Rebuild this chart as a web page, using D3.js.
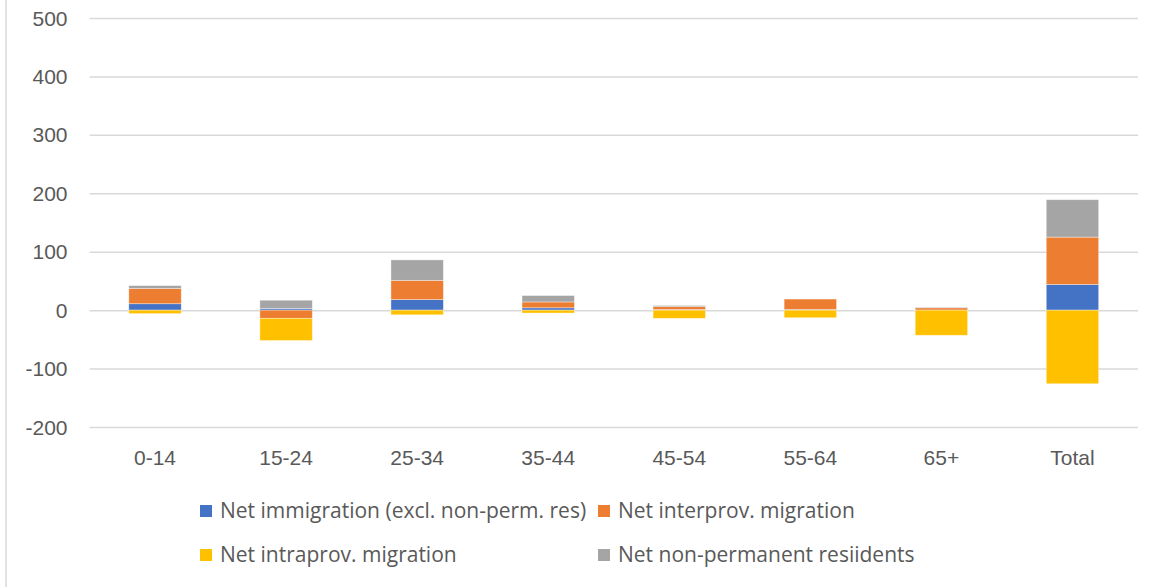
<!DOCTYPE html>
<html>
<head>
<meta charset="utf-8">
<script src="https://cdn.jsdelivr.net/npm/d3@7"></script>
<style>
  html, body { margin: 0; padding: 0; background: #fff; }
  svg { display: block; font-family: "Open Sans", sans-serif; }
</style>
</head>
<body>
<svg id="chart" width="1157" height="587"></svg>
<script>
// Age groups along the x axis
const categories = ["0-14", "15-24", "25-34", "35-44", "45-54", "55-64", "65+", "Total"];

// Components of net migration, by age group
const seriesNames = [
  "Net immigration (excl. non-perm. res)",
  "Net interprov. migration",
  "Net intraprov. migration",
  "Net non-permanent resiidents"
];
const immigration  = [11, 3, 18, 4, 1, 1, 0, 44];
const interprov    = [26, -14, 33, 10, 5, 18, 4, 81];
const intraprov    = [-6, -38, -8, -5, -14, -13, -43, -126];
const nonPermanent = [5, 14, 35, 11, 2, 0, 1, 64];

const yTicks = [-200, -100, 0, 100, 200, 300, 400, 500];

const colors = ["#4472C4", "#ED7D31", "#FFC000", "#A5A5A5"];
const seriesValues = [immigration, interprov, intraprov, nonPermanent];

const rows = categories.map((c, i) => {
  const r = { category: c };
  seriesNames.forEach((s, k) => { r[s] = seriesValues[k][i]; });
  return r;
});

const FONT = "21px";
const svg = d3.select("#chart");

// Outer frame edge on the left
svg.append("line")
  .attr("x1", 6).attr("x2", 6).attr("y1", 0).attr("y2", 587)
  .attr("stroke", "#d9d9d9").attr("stroke-width", 1.5);

const x = d3.scaleBand()
  .domain(categories)
  .range([89.5, 1138])
  .paddingInner(0.6)
  .paddingOuter(0.3);

const y = d3.scaleLinear()
  .domain([-200, 500])
  .range([427, 18]);

// Horizontal gridlines with value labels
const yAxis = d3.axisLeft(y)
  .tickValues(yTicks)
  .tickSize(-(1138 - 89.5))
  .tickPadding(22)
  .tickFormat(d => String(d));

const gy = svg.append("g")
  .attr("transform", "translate(89.5,0)")
  .call(yAxis);
gy.select(".domain").remove();
gy.selectAll(".tick line").attr("stroke", "#d9d9d9").attr("stroke-width", 1.5);
gy.selectAll(".tick text")
  .attr("fill", "#595959")
  .style("font-size", FONT)
  .attr("dy", "0.34em");

const stack = d3.stack()
  .keys(seriesNames)
  .offset(d3.stackOffsetDiverging);
const stacked = stack(rows);

svg.append("g")
  .selectAll("g")
  .data(stacked)
  .join("g")
  .attr("fill", (d, i) => colors[i])
  .selectAll("rect")
  .data(d => d)
  .join("rect")
  .attr("x", d => x(d.data.category))
  .attr("width", x.bandwidth())
  .attr("y", d => y(Math.max(d[0], d[1])))
  .attr("height", d => Math.abs(y(d[0]) - y(d[1])))
  .attr("stroke", "#ffffff")
  .attr("stroke-opacity", 0.5)
  .attr("stroke-width", 0.75);

// Category labels
const xAxis = d3.axisBottom(x).tickSize(0).tickPadding(0);
const gx = svg.append("g")
  .attr("transform", "translate(0,458)")
  .call(xAxis);
gx.select(".domain").remove();
gx.selectAll(".tick text")
  .attr("fill", "#595959")
  .style("font-size", FONT)
  .attr("dy", "0.34em");

// Legend in two rows
const legendPos = [[200, 511], [598, 511], [200, 555], [598, 555]];
const legend = svg.append("g")
  .selectAll("g")
  .data(seriesNames)
  .join("g")
  .attr("transform", (d, i) => `translate(${legendPos[i][0]},${legendPos[i][1]})`);
legend.append("rect")
  .attr("x", 0).attr("y", -6)
  .attr("width", 12).attr("height", 12)
  .attr("fill", (d, i) => colors[i]);
legend.append("text")
  .attr("x", 20)
  .attr("dy", "0.34em")
  .attr("fill", "#595959")
  .style("font-size", FONT)
  .text(d => d);
</script>
</body>
</html>
